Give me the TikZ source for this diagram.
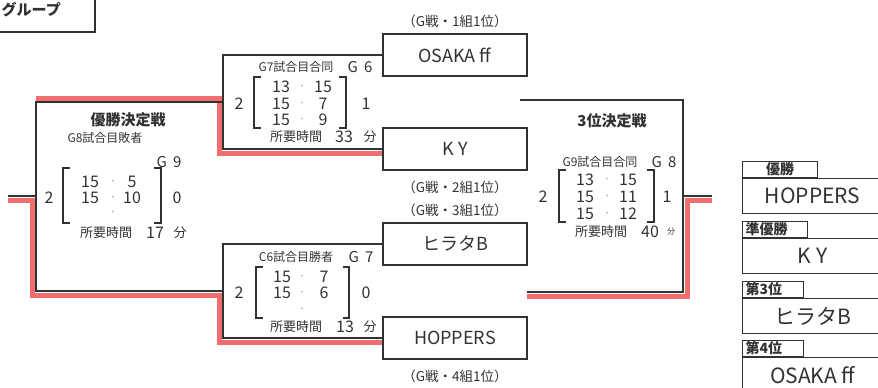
\documentclass[tikz,border=0pt]{standalone}
\usepackage{fontspec}
\setmainfont{Noto Sans CJK JP}
\usetikzlibrary{positioning}
\definecolor{ink}{RGB}{50,50,50}
\definecolor{winpink}{RGB}{240,110,110}

\begin{document}
\begin{tikzpicture}[x=1pt, y=-1pt, color=ink,
    team/.style={draw, line width=1.3pt, minimum width=144pt, minimum height=42pt, inner sep=0pt, font=\fontsize{18}{18}\selectfont},
    src/.style={inner sep=1pt, font=\fontsize{13.5}{13.5}\selectfont},
    heading/.style={inner sep=0pt, font=\fontsize{15}{15}\selectfont\bfseries},
    game/.style={inner sep=0pt, font=\fontsize{12}{12}\selectfont},
    gno/.style={inner sep=0pt, font=\fontsize{15}{15}\selectfont},
    pts/.style={inner sep=0pt, font=\fontsize{16}{16}\selectfont},
    sep/.style={inner sep=0pt, text=black!30, font=\fontsize{9}{9}\selectfont},
    mins/.style={inner sep=0pt, font=\fontsize{13}{13}\selectfont},
    bline/.style={line width=1.3pt},
    winline/.style={winpink, line width=5pt},
    rank/.style={draw, line width=1.3pt, anchor=north west, minimum width=140pt, minimum height=35pt, inner sep=0pt, font=\fontsize{21}{21}\selectfont},
    ranktab/.style={draw, line width=1.3pt, anchor=south west, minimum height=16pt, inner ysep=0pt, inner xsep=3pt, font=\fontsize{14}{14}\selectfont\bfseries}
  ]
\useasboundingbox (0,0) rectangle (878,388);

% group box, top left
\node (grp) [heading, anchor=east] at (61,10) {グループ};
\draw[bline] (-2,32) -- (95,32) -- (95,-2);

% teams
\node (osaka) [team] at (455,55) {OSAKA ff};
\node (ky) [team] at (455,149) {K Y};
\node (hirata) [team] at (455,244) {ヒラタB};
\node (hoppers) [team] at (455,338) {HOPPERS};
\node (src1) [src, above=4pt of osaka] {（G戦・1組1位）};
\node (src2) [src, below=9pt of ky] {（G戦・2組1位）};
\node (src3) [src, above=4pt of hirata] {（G戦・3組1位）};
\node (src4) [src, below=9pt of hoppers] {（G戦・4組1位）};

\coordinate (g6m) at (223,102);
\coordinate (g6b) at (223,149);
\coordinate (g7m) at (223,291);
\coordinate (g7b) at (223,338);
\coordinate (fin) at (36,196);
\coordinate (champ) at (8,196);
\coordinate (g8t) at (520,100);
\coordinate (g8r) at (683,196);
\coordinate (g8b) at (527,292);
\coordinate (third) at (712,196);

% winners
\draw[winline] ([yshift=-4pt]ky.west) -| (219,98) -- (36,98);
\draw[winline] ([yshift=-4pt]hoppers.west) -| (219,295) -| (32,200) -- ([yshift=-4pt]champ);
\draw[winline] ([yshift=-4pt]g8b) -| (687,200) -- ([yshift=-4pt]third);

% bracket lines
\draw[bline] (osaka.west) -| (g6b) -- (ky.west);
\draw[bline] (hirata.west) -| (g7b) -- (hoppers.west);
\draw[bline] (g6m) -| (fin) |- (g7m);
\draw[bline] (fin) -- (champ);
\draw[bline] (g8t) -| (g8r) |- (g8b);
\draw[bline] (g8r) -- (third);

% final
\node (fhead) [heading] at (128,120) {優勝決定戦};
\node (fgame) [game] at (105,138) {G8試合目敗者};
\node (fno) [gno] at (169,162) {G\hspace{6pt}9};
\draw[bline] (70,168) -| (63,223) -- (70,223);
\draw[bline] (154,168) -| (161,223) -- (154,223);
\node (fa1) [pts] at (90,182) {15};
\node (fs1) [sep] at (113,182) {・};
\node (fb1) [pts] at (132,182) {5};
\node (fa2) [pts] at (90,198) {15};
\node (fs2) [sep] at (113,198) {・};
\node (fb2) [pts] at (132,198) {10};
\node (fs3) [sep] at (113,213) {・};
\node (fwon) [pts] at (49,198) {2};
\node (flost) [pts] at (177,198) {0};
\node (ftime) [mins] at (106,233) {所要時間};
\node (fmin) [pts] at (155,233) {17};
\node (funit) [mins] at (180,233) {分};

% G6
\node (agame) [game] at (296,67) {G7試合目合同};
\node (ano) [gno] at (360,67) {G\hspace{6pt}6};
\draw[bline] (261,77) -| (254,128) -- (261,128);
\draw[bline] (339,77) -| (346,128) -- (339,128);
\node (aa1) [pts] at (281,87) {13};
\node (as1) [sep] at (302,87) {・};
\node (ab1) [pts] at (323,87) {15};
\node (aa2) [pts] at (281,104) {15};
\node (as2) [sep] at (302,104) {・};
\node (ab2) [pts] at (323,104) {7};
\node (aa3) [pts] at (281,120) {15};
\node (as3) [sep] at (302,120) {・};
\node (ab3) [pts] at (323,120) {9};
\node (awon) [pts] at (239,104) {2};
\node (alost) [pts] at (366,104) {1};
\node (atime) [mins] at (296,137) {所要時間};
\node (amin) [pts] at (344,137) {33};
\node (aunit) [mins] at (370,137) {分};

% G7
\node (bgame) [game] at (296,257) {C6試合目勝者};
\node (bno) [gno] at (361,257) {G\hspace{6pt}7};
\draw[bline] (263,267) -| (256,318) -- (263,318);
\draw[bline] (343,267) -| (349,318) -- (343,318);
\node (ba1) [pts] at (282,277) {15};
\node (bs1) [sep] at (302,277) {・};
\node (bb1) [pts] at (324,277) {7};
\node (ba2) [pts] at (282,293) {15};
\node (bs2) [sep] at (302,293) {・};
\node (bb2) [pts] at (324,293) {6};
\node (bs3) [sep] at (302,310) {・};
\node (bwon) [pts] at (239,293) {2};
\node (blost) [pts] at (366,293) {0};
\node (btime) [mins] at (296,327) {所要時間};
\node (bmin) [pts] at (345,327) {13};
\node (bunit) [mins] at (370,327) {分};

% G8, 3rd place
\node (chead) [heading] at (612,121) {3位決定戦};
\node (cgame) [game] at (600,162) {G9試合目合同};
\node (cno) [gno] at (664,162) {G\hspace{6pt}8};
\draw[bline] (566,170) -| (559,222) -- (566,222);
\draw[bline] (647,170) -| (654,222) -- (647,222);
\node (ca1) [pts] at (585,180) {13};
\node (cs1) [sep] at (607,180) {・};
\node (cb1) [pts] at (628,180) {15};
\node (ca2) [pts] at (585,197) {15};
\node (cs2) [sep] at (607,197) {・};
\node (cb2) [pts] at (628,197) {11};
\node (ca3) [pts] at (585,214) {15};
\node (cs3) [sep] at (607,214) {・};
\node (cb3) [pts] at (628,214) {12};
\node (cwon) [pts] at (543,197) {2};
\node (clost) [pts] at (667,197) {1};
\node (ctime) [mins] at (601,232) {所要時間};
\node (cmin) [pts] at (650,232) {40};
\node (cunit) [inner sep=0pt, font=\fontsize{8}{8}\selectfont] at (671,232) {分};

% ranking
\node (first) [rank] at (742,178) {HOPPERS};
\node (firsttab) [ranktab, text width=69pt, align=center] at (first.north west) {優勝};
\node (second) [rank] at (742,238) {K Y};
\node (secondtab) [ranktab, text width=59pt, align=left] at (second.north west) {準優勝};
\node (thirdpl) [rank] at (742,298) {ヒラタB};
\node (thirdtab) [ranktab, text width=55pt, align=left] at (thirdpl.north west) {第3位};
\node (fourth) [rank] at (742,357) {OSAKA ff};
\node (fourthtab) [ranktab, text width=55pt, align=left] at (fourth.north west) {第4位};
\end{tikzpicture}
\end{document}
